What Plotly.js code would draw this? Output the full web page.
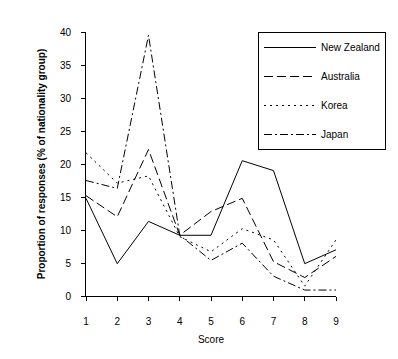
<!DOCTYPE html>
<html>
<head>
<meta charset="utf-8">
<script src="https://cdn.plot.ly/plotly-3.0.1.min.js"></script>
<style>html,body{margin:0;padding:0;background:#fff;}#chart{width:398px;height:359px;}</style>
</head>
<body>
<div id="chart"></div>
<script>
const scores = [1, 2, 3, 4, 5, 6, 7, 8, 9];
const newZealand = [14.8, 4.9, 11.3, 9.2, 9.2, 20.5, 19.0, 4.9, 7.0];
const australia  = [15.2, 12.0, 22.2, 9.2, 12.8, 14.8, 5.2, 2.8, 6.0];
const korea      = [21.7, 17.1, 18.2, 9.0, 6.7, 10.2, 8.5, 1.5, 8.5];
const japan      = [17.5, 16.3, 39.5, 9.2, 5.4, 8.0, 3.0, 0.9, 0.9];
const yTicks = [0, 5, 10, 15, 20, 25, 30, 35, 40];

const font = "Arial, 'Liberation Sans', sans-serif";
function tr(name, y, dash, g) {
  return {x: scores, y: y, name: name, type: 'scatter', mode: 'lines',
    legendgroup: g,
    line: {color: '#000', width: 1, dash: dash}};
}
const data = [
  tr('New Zealand', newZealand, 'solid', 'a'),
  tr('Australia', australia, '9px,4px', 'b'),
  tr('Korea', korea, '2px,4px', 'c'),
  tr('Japan', japan, '8px,3px,2px,3px', 'd')
];
const layout = {
  width: 398, height: 359,
  margin: {l: 86, r: 62, t: 32, b: 63},
  paper_bgcolor: '#fff', plot_bgcolor: '#fff',
  font: {family: font, size: 10, color: '#000'},
  showlegend: true,
  legend: {x: 0, xref: 'paper', y: 1, yanchor: 'top', bordercolor: '#000', borderwidth: 1,
    bgcolor: '#fff', font: {size: 10}, itemwidth: 52, tracegroupgap: 10, traceorder: 'grouped'},
  xaxis: {range: [1, 9], tickvals: scores, ticks: 'outside', ticklen: 4, tickcolor: '#000',
    showline: true, linecolor: '#000', linewidth: 1, showgrid: false, zeroline: false,
    ticklabelstandoff: 12,
    title: {text: 'Score', font: {size: 10}, standoff: 9}},
  yaxis: {range: [0, 40], tickvals: yTicks, ticks: 'outside', ticklen: 4, tickcolor: '#000',
    showline: true, linecolor: '#000', linewidth: 1, showgrid: false, zeroline: false,
    ticklabelstandoff: 8,
    title: {text: '<b>Proportion of responses (% of nationality group)</b>', font: {size: 10}, standoff: 12}}
};
layout.legend.x = (258 - 86) / (398 - 86 - 62);
Plotly.newPlot('chart', data, layout, {staticPlot: true});
</script>
</body>
</html>
